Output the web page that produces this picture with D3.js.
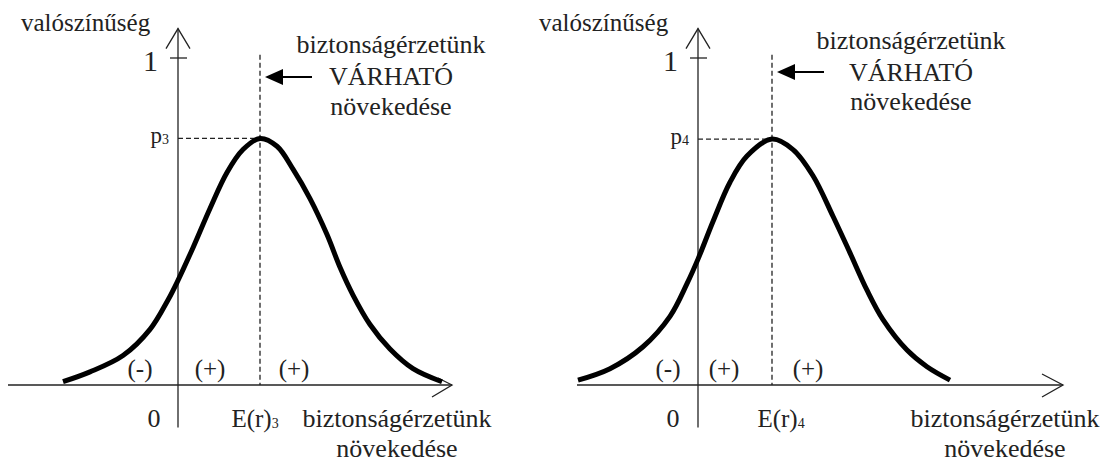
<!DOCTYPE html>
<html>
<head>
<meta charset="utf-8">
<script src="https://cdn.jsdelivr.net/npm/d3@7"></script>
<style>
  body { margin: 0; background: #fff; }
</style>
</head>
<body>
<div id="chart"></div>
<script>
// values (x: units right of the axis, y: probability)
const panelIds = ["3", "4"];
const curve3 = [
  [-1.15, 0.01], [-0.88, 0.04], [-0.55, 0.09], [-0.28, 0.17], [-0.10, 0.26],
  [0.00, 0.32], [0.15, 0.42], [0.32, 0.54], [0.49, 0.65], [0.65, 0.72],
  [0.82, 0.754], [0.99, 0.73], [1.15, 0.66], [1.32, 0.57], [1.49, 0.46],
  [1.62, 0.36], [1.75, 0.275], [1.92, 0.185], [2.12, 0.11], [2.35, 0.05], [2.64, 0.01]
];
const curve4 = [
  [-1.20, 0.015], [-0.88, 0.05], [-0.55, 0.117], [-0.28, 0.21], [-0.11, 0.31],
  [0.00, 0.385], [0.15, 0.50], [0.32, 0.62], [0.49, 0.70], [0.74, 0.752],
  [0.95, 0.72], [1.15, 0.64], [1.35, 0.516], [1.52, 0.404], [1.69, 0.29],
  [1.85, 0.20], [2.09, 0.107], [2.29, 0.056], [2.52, 0.015]
];
const curves = [curve3, curve4];
const expectedValues = [0.82, 0.74];
const peakProbs = [0.754, 0.752];
const signLabels = ["(-)", "(+)", "(+)"];
const yTitle = "valószínűség";
const xTitle = ["biztonságérzetünk", "növekedése"];
const noteLines = ["biztonságérzetünk", "VÁRHATÓ", "növekedése"];

const W = 1109, H = 463;
const svg = d3.select("#chart").append("svg")
    .attr("width", W).attr("height", H)
    .attr("font-family", "'Liberation Serif', 'Times New Roman', Times, serif")
    .style("font-family", "'Liberation Serif', 'Times New Roman', Times, serif");

// layout per panel
const layout = [
  {ox: 178, xStart: -1.70, xEnd: 2.74, noteY: [53, 85, 115], arrowY: 77, titleX: 21,
   signX: [140, 210, 294], zeroX: 154, eX: 255, xtX: 397, xtY: [427, 457],
   head: [[-14, -7], [-20, 12]]},
  {ox: 698, xStart: -1.21, xEnd: 3.65, noteY: [49, 81, 110], arrowY: 72, titleX: 539,
   signX: [668, 724, 808], zeroX: 673, eX: 781, xtX: 1005, xtY: [427, 457],
   head: [[-21, -11], [-21, 12]]}
];

const y = d3.scaleLinear().domain([0, 1]).range([385, 58]);

panelIds.forEach((id, i) => {
  const L = layout[i];
  const x = d3.scaleLinear().domain([0, 1]).range([L.ox, L.ox + 100]);
  const g = svg.append("g").attr("fill", "#222");

  // x axis with open arrow
  const xe = x(L.xEnd), y0 = y(0);
  g.append("line").attr("x1", x(L.xStart)).attr("x2", xe)
      .attr("y1", y0).attr("y2", y0).attr("stroke", "#222").attr("stroke-width", 1.3);
  g.append("path")
      .attr("d", `M${xe + L.head[0][0]},${y0 + L.head[0][1]}L${xe},${y0}L${xe + L.head[1][0]},${y0 + L.head[1][1]}`)
      .attr("fill", "none").attr("stroke", "#222").attr("stroke-width", 1.3);

  // y axis with open arrow
  const yt = y(1.09);
  g.append("line").attr("x1", x(0)).attr("x2", x(0))
      .attr("y1", y(-0.13)).attr("y2", yt).attr("stroke", "#222").attr("stroke-width", 1.3);
  g.append("path").attr("d", `M${x(0) - 12},${yt + 20}L${x(0)},${yt}L${x(0) + 12},${yt + 20}`)
      .attr("fill", "none").attr("stroke", "#222").attr("stroke-width", 1.3);

  // tick at 1
  g.append("line").attr("x1", x(0) - 8).attr("x2", x(0) + 9)
      .attr("y1", y(1)).attr("y2", y(1)).attr("stroke", "#222").attr("stroke-width", 1.3);
  g.append("text").attr("x", x(0) - 20).attr("y", y(1) + 13)
      .attr("text-anchor", "end").attr("font-size", 30).text("1");

  // dashed guides
  const ex = x(expectedValues[i]);
  g.append("line").attr("x1", ex).attr("x2", ex)
      .attr("y1", y(1.01)).attr("y2", y(0))
      .attr("stroke", "#222").attr("stroke-width", 1.3).attr("stroke-dasharray", "5,3");
  g.append("line").attr("x1", x(0)).attr("x2", ex)
      .attr("y1", y(peakProbs[i])).attr("y2", y(peakProbs[i]))
      .attr("stroke", "#222").attr("stroke-width", 1.3).attr("stroke-dasharray", "5,3");

  // p label
  const pt = g.append("text").attr("x", x(0) - 9).attr("y", y(peakProbs[i]) + 5)
      .attr("text-anchor", "end").attr("font-size", 23);
  pt.append("tspan").text("p");
  pt.append("tspan").attr("font-size", 14).attr("dy", 1).text(id);

  // the curve
  const line = d3.line().x(d => x(d[0])).y(d => y(d[1]))
      .curve(d3.curveCatmullRom.alpha(0.5));
  g.append("path").datum(curves[i]).attr("d", line)
      .attr("fill", "none").attr("stroke", "#000").attr("stroke-width", 5)
      .attr("stroke-linejoin", "round");

  // sign labels
  g.selectAll(".sign").data(signLabels).enter().append("text")
      .attr("class", "sign").attr("x", (d, j) => L.signX[j]).attr("y", y(0) - 8)
      .attr("text-anchor", "middle").attr("font-size", 25).text(d => d);

  // 0 and E(r)
  g.append("text").attr("x", L.zeroX).attr("y", L.xtY[0])
      .attr("text-anchor", "middle").attr("font-size", 26).text("0");
  const et = g.append("text").attr("x", L.eX).attr("y", L.xtY[0])
      .attr("text-anchor", "middle").attr("font-size", 25);
  et.append("tspan").text("E(r)");
  et.append("tspan").attr("font-size", 14).attr("dy", 1).text(id);

  // axis titles
  g.append("text").attr("x", L.titleX).attr("y", 31)
      .attr("font-size", 25).text(yTitle);
  g.selectAll(".xt").data(xTitle).enter().append("text")
      .attr("class", "xt").attr("x", L.xtX).attr("y", (d, j) => L.xtY[j])
      .attr("text-anchor", "middle").attr("font-size", 26).text(d => d);

  // note with arrow
  const nx = x(0) + 213;
  g.selectAll(".note").data(noteLines).enter().append("text")
      .attr("class", "note").attr("x", nx).attr("y", (d, j) => L.noteY[j])
      .attr("text-anchor", "middle").attr("font-size", 26).text(d => d);
  g.append("line").attr("x1", ex + 20).attr("x2", ex + 52)
      .attr("y1", L.arrowY).attr("y2", L.arrowY).attr("stroke", "#000").attr("stroke-width", 2);
  g.append("path").attr("d", `M${ex + 5},${L.arrowY}L${ex + 23},${L.arrowY - 8}L${ex + 23},${L.arrowY + 8}Z`)
      .attr("fill", "#000");
});
</script>
</body>
</html>
